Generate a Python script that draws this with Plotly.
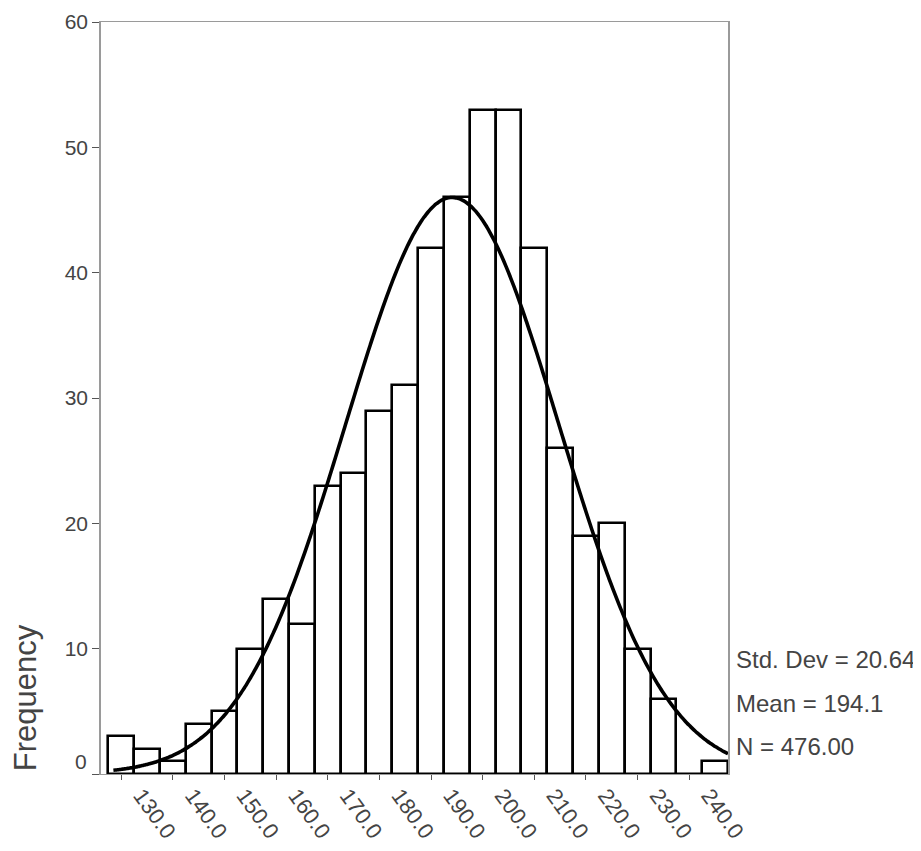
import numpy as np
import plotly.graph_objects as go

# Histogram bins (midpoints, width 5) and frequencies
bin_centers = [130, 135, 140, 145, 150, 155, 160, 165, 170, 175, 180, 185,
               190, 195, 200, 205, 210, 215, 220, 225, 230, 235, 240, 245]
frequencies = [3, 2, 1, 4, 5, 10, 14, 12, 23, 24, 29, 31,
               42, 46, 53, 53, 42, 26, 19, 20, 10, 6, 0, 1]
bin_width = 5

# Summary statistics shown on the chart
std_dev = 20.64
mean = 194.1
n_total = 476

x_tick_vals = [130, 140, 150, 160, 170, 180, 190, 200, 210, 220, 230, 240]
x_tick_text = ["130.0", "140.0", "150.0", "160.0", "170.0", "180.0",
               "190.0", "200.0", "210.0", "220.0", "230.0", "240.0"]
y_tick_vals = [0, 10, 20, 30, 40, 50, 60]
y_tick_text = ["", "10", "20", "30", "40", "50", "60"]

# Fitted normal curve from the stated mean / SD / N
cx = np.linspace(128.5, 247.5, 300)
cy = n_total * bin_width * np.exp(-0.5 * ((cx - mean) / std_dev) ** 2) / (std_dev * np.sqrt(2 * np.pi))

grey = "#444444"
font = "Liberation Sans, Arial, sans-serif"

fig = go.Figure()
fig.add_trace(go.Bar(
    x=bin_centers, y=frequencies, width=bin_width,
    marker=dict(color="white", line=dict(color="black", width=2.6)),
    showlegend=False, hoverinfo="x+y",
))
fig.add_trace(go.Scatter(
    x=cx, y=cy, mode="lines",
    line=dict(color="black", width=3.6, shape="spline"),
    showlegend=False, hoverinfo="skip",
))

fig.update_layout(
    width=921, height=851,
    margin=dict(l=93, r=201, t=14, b=85),
    paper_bgcolor="white", plot_bgcolor="white",
    font=dict(family=font, color=grey, size=20),
    bargap=0,
    xaxis=dict(
        range=[126.1, 247.5], tickvals=x_tick_vals, ticktext=x_tick_text,
        tickangle=54, ticks="outside", ticklen=5, tickcolor="#555555",
        showline=True, linecolor="#9a9a9a", linewidth=1, mirror=True,
        showgrid=False, zeroline=False, automargin=False,
        ticklabelstandoff=-6, ticklabelshift=20,
        tickfont=dict(size=22, color=grey, family=font),
    ),
    yaxis=dict(
        range=[0, 60], tickvals=y_tick_vals, ticktext=y_tick_text,
        ticks="outside", ticklen=7, tickcolor="#555555",
        showline=True, linecolor="#9a9a9a", linewidth=1.5, mirror=True,
        showgrid=False, zeroline=False, automargin=False,
        tickfont=dict(size=21, color=grey, family=font),
    ),
)

# raised zero label as in the original
fig.add_annotation(
    text="0", xref="paper", yref="y", x=-0.019, y=1.0,
    xanchor="right", yanchor="middle", showarrow=False,
    font=dict(size=21, color=grey, family=font),
)

stats = [("Std. Dev = %.2f" % std_dev, 9.1),
         ("Mean = %.1f" % mean, 5.6),
         ("N = %.2f" % n_total, 2.2)]
for txt, yy in stats:
    fig.add_annotation(
        text=txt, xref="paper", yref="y", x=1.01, y=yy,
        xanchor="left", yanchor="middle", showarrow=False,
        font=dict(size=24, color=grey, family=font),
    )

fig.add_annotation(
    text="Frequency", xref="paper", yref="y", x=-0.12, y=6.1,
    xanchor="center", yanchor="middle", textangle=-90, showarrow=False,
    font=dict(size=31, color=grey, family=font),
)

fig.write_html("out.html")
